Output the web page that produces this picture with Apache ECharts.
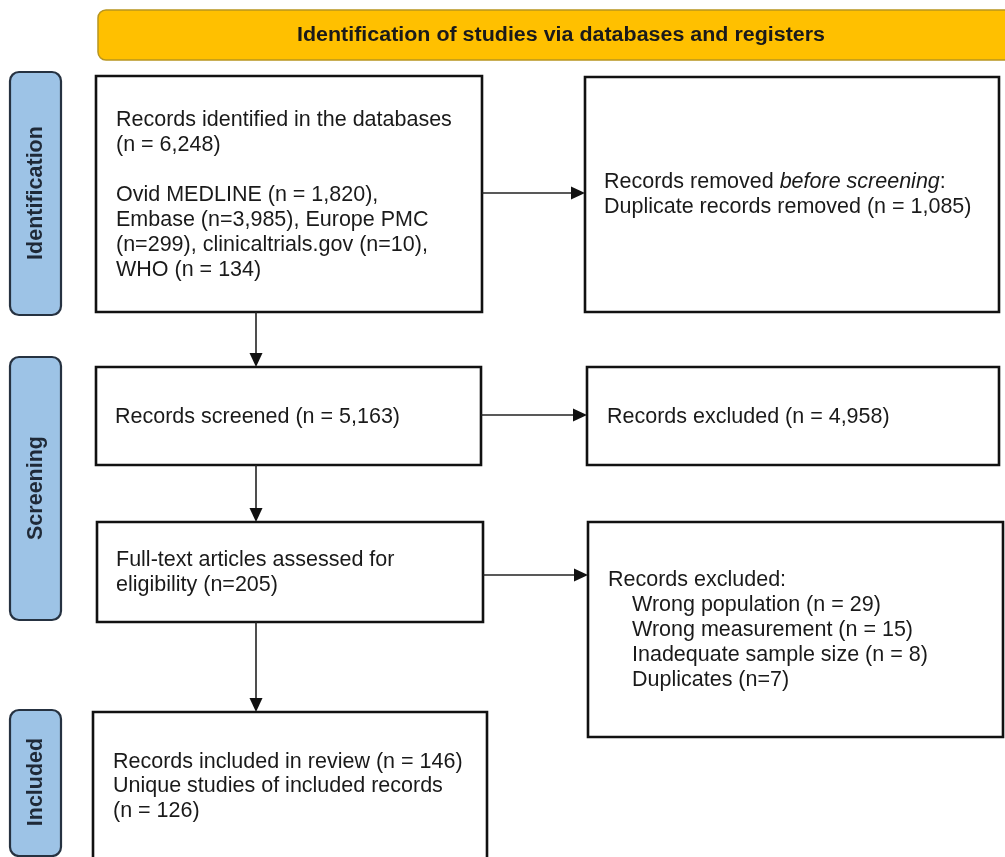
<!DOCTYPE html>
<html>
<head>
<meta charset="utf-8">
<script src="https://cdn.jsdelivr.net/npm/echarts@6/dist/echarts.min.js"></script>
<style>
html,body{margin:0;padding:0;background:#fff;}
#chart{width:1005px;height:857px;}
</style>
</head>
<body>
<div id="chart"></div>
<script>
// ---- content (data) ----
const headerTitle = 'Identification of studies via databases and registers';
const phaseLabels = ['Identification', 'Screening', 'Included'];
const identifiedText = 'Records identified in the databases\n(n = 6,248)\n\nOvid MEDLINE (n = 1,820),\nEmbase (n=3,985), Europe PMC\n(n=299), clinicaltrials.gov (n=10),\nWHO (n = 134)';
const removedText = 'Records removed {i|before screening}:\nDuplicate records removed (n = 1,085)';
const screenedText = 'Records screened (n = 5,163)';
const excludedText = 'Records excluded (n = 4,958)';
const fullTextText = 'Full-text articles assessed for\neligibility (n=205)';
const exclusionTitle = 'Records excluded:';
const exclusionReasons = ['Wrong population (n = 29)', 'Wrong measurement (n = 15)', 'Inadequate sample size (n = 8)', 'Duplicates (n=7)'];
const includedText = 'Records included in review (n = 146)\nUnique studies of included records\n(n = 126)';

// ---- layout / style ----
const FONT = '"Liberation Sans", Arial, Helvetica, sans-serif';
const FS = 21.5, LH = 25;
const TXT = '#1a1a1a';

const phaseBoxes = [
  {x: 10, y: 72, w: 51, h: 243, cy: 193},
  {x: 10, y: 357, w: 51, h: 263, cy: 488},
  {x: 10, y: 710, w: 51, h: 146, cy: 782}
];

const boxes = [
  {x: 96, y: 76, w: 386, h: 236},
  {x: 585, y: 77, w: 414, h: 235},
  {x: 96, y: 367, w: 385, h: 98},
  {x: 587, y: 367, w: 412, h: 98},
  {x: 97, y: 522, w: 386, h: 100},
  {x: 588, y: 522, w: 415, h: 215},
  {x: 93, y: 712, w: 394, h: 170}
];

const arrows = [
  {x1: 482, y1: 193, x2: 585, y2: 193},
  {x1: 481, y1: 415, x2: 587, y2: 415},
  {x1: 483, y1: 575, x2: 588, y2: 575},
  {x1: 256, y1: 312, x2: 256, y2: 367},
  {x1: 256, y1: 465, x2: 256, y2: 522},
  {x1: 256, y1: 622, x2: 256, y2: 712}
];

function textEl(x, y, text, extra) {
  return Object.assign({
    type: 'text', x: x, y: y, z: 10,
    style: Object.assign({
      text: text, fontSize: FS, fontFamily: FONT, fill: TXT,
      lineHeight: LH, verticalAlign: 'top', align: 'left'
    }, (extra && extra.style) || {})
  }, extra && extra.el ? extra.el : {});
}

const elements = [];

// header
elements.push({
  type: 'rect', shape: {x: 98, y: 10, width: 930, height: 50, r: 8},
  style: {fill: '#FFC000', stroke: '#B8951F', lineWidth: 1.5}
});
elements.push({
  type: 'text', x: 561, y: 36, scaleX: 1.1, z: 10,
  style: {text: headerTitle, fontSize: 19.5, fontWeight: 'bold', fontFamily: FONT,
    fill: '#1a1a1a', align: 'center', verticalAlign: 'middle'}
});

// phase labels
phaseLabels.forEach(function (label, i) {
  const b = phaseBoxes[i];
  elements.push({
    type: 'rect', shape: {x: b.x, y: b.y, width: b.w, height: b.h, r: 9},
    style: {fill: '#9DC3E6', stroke: '#263241', lineWidth: 2.2}
  });
  elements.push({
    type: 'text', x: b.x + b.w / 2 + 1, y: b.cy, rotation: Math.PI / 2, z: 10,
    style: {text: label, fontSize: 21.5, fontWeight: 'bold', fontFamily: FONT,
      fill: '#1f2937', align: 'center', verticalAlign: 'middle'}
  });
});

// boxes
boxes.forEach(function (b) {
  elements.push({
    type: 'rect', shape: {x: b.x, y: b.y, width: b.w, height: b.h},
    style: {fill: '#fff', stroke: '#111', lineWidth: 2.6}
  });
});

// arrows
arrows.forEach(function (a) {
  const L = 14, W = 6.5;
  let tip, p1, p2, end;
  if (a.y1 === a.y2) {
    end = [a.x2 - L, a.y2];
    tip = [a.x2, a.y2]; p1 = [a.x2 - L, a.y2 - W]; p2 = [a.x2 - L, a.y2 + W];
  } else {
    end = [a.x2, a.y2 - L];
    tip = [a.x2, a.y2]; p1 = [a.x2 - W, a.y2 - L]; p2 = [a.x2 + W, a.y2 - L];
  }
  elements.push({
    type: 'line', shape: {x1: a.x1, y1: a.y1, x2: end[0], y2: end[1]},
    style: {stroke: '#222', lineWidth: 1.6}
  });
  elements.push({
    type: 'polygon', shape: {points: [tip, p1, p2]},
    style: {fill: '#111'}
  });
});

// texts
elements.push(textEl(116, 107.5, identifiedText));
elements.push(textEl(604, 169.5, removedText, {style: {
  rich: {i: {fontStyle: 'italic', fontSize: FS, fontFamily: FONT, fill: TXT, lineHeight: LH}}
}}));
elements.push(textEl(115, 417, screenedText, {style: {verticalAlign: 'middle'}}));
elements.push(textEl(607, 417, excludedText, {style: {verticalAlign: 'middle'}}));
elements.push(textEl(116, 547.5, fullTextText));
elements.push(textEl(608, 567.5, exclusionTitle));
elements.push(textEl(632, 592.5, exclusionReasons.join('\n')));
elements.push(textEl(113, 749.5, includedText, {style: {lineHeight: 24.5}}));

const chart = echarts.init(document.getElementById('chart'), null, {renderer: 'canvas'});
chart.setOption({
  backgroundColor: '#ffffff',
  animation: false,
  graphic: {elements: elements}
});
</script>
</body>
</html>
